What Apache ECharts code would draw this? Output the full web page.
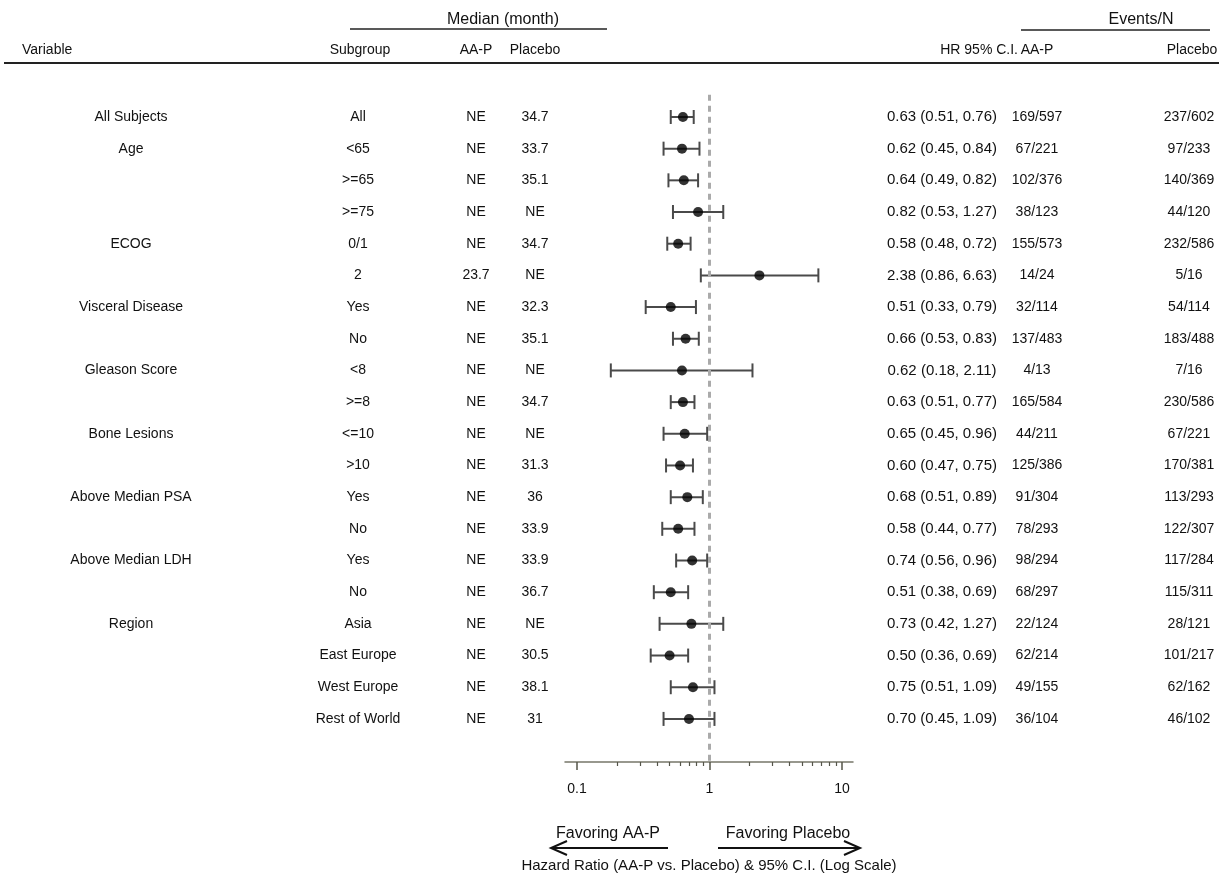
<!DOCTYPE html>
<html lang="en">
<head>
    <meta charset="UTF-8">
    <title>Forest plot</title>
    <script src="https://cdn.jsdelivr.net/npm/echarts@6/dist/echarts.min.js"></script>
    <style>
        html, body { margin: 0; padding: 0; background: #fff; }
        #main { width: 1219px; height: 881px; }
    </style>
</head>
<body>
<div id="main"></div>
<script>
    // ---- data
    var variables = ['All Subjects', 'Age', '', '', 'ECOG', '', 'Visceral Disease', '', 'Gleason Score', '',
        'Bone Lesions', '', 'Above Median PSA', '', 'Above Median LDH', '', 'Region', '', '', ''];
    var subgroups = ['All', '<65', '>=65', '>=75', '0/1', '2', 'Yes', 'No', '<8', '>=8',
        '<=10', '>10', 'Yes', 'No', 'Yes', 'No', 'Asia', 'East Europe', 'West Europe', 'Rest of World'];
    var medianAA = ['NE', 'NE', 'NE', 'NE', 'NE', '23.7', 'NE', 'NE', 'NE', 'NE',
        'NE', 'NE', 'NE', 'NE', 'NE', 'NE', 'NE', 'NE', 'NE', 'NE'];
    var medianPlacebo = ['34.7', '33.7', '35.1', 'NE', '34.7', 'NE', '32.3', '35.1', 'NE', '34.7',
        'NE', '31.3', '36', '33.9', '33.9', '36.7', 'NE', '30.5', '38.1', '31'];
    var hr = [0.63, 0.62, 0.64, 0.82, 0.58, 2.38, 0.51, 0.66, 0.62, 0.63,
        0.65, 0.60, 0.68, 0.58, 0.74, 0.51, 0.73, 0.50, 0.75, 0.70];
    var ciLow = [0.51, 0.45, 0.49, 0.53, 0.48, 0.86, 0.33, 0.53, 0.18, 0.51,
        0.45, 0.47, 0.51, 0.44, 0.56, 0.38, 0.42, 0.36, 0.51, 0.45];
    var ciHigh = [0.76, 0.84, 0.82, 1.27, 0.72, 6.63, 0.79, 0.83, 2.11, 0.77,
        0.96, 0.75, 0.89, 0.77, 0.96, 0.69, 1.27, 0.69, 1.09, 1.09];
    var eventsAA = ['169/597', '67/221', '102/376', '38/123', '155/573', '14/24', '32/114', '137/483', '4/13', '165/584',
        '44/211', '125/386', '91/304', '78/293', '98/294', '68/297', '22/124', '62/214', '49/155', '36/104'];
    var eventsPlacebo = ['237/602', '97/233', '140/369', '44/120', '232/586', '5/16', '54/114', '183/488', '7/16', '230/586',
        '67/221', '170/381', '113/293', '122/307', '117/284', '115/311', '28/121', '101/217', '62/162', '46/102'];
    var majorTicks = [0.1, 1, 10];
    var minorTicks = [0.2, 0.3, 0.4, 0.5, 0.6, 0.7, 0.8, 0.9, 2, 3, 4, 5, 6, 7, 8, 9];

    var FONT = '"Liberation Sans", Arial, Helvetica, sans-serif';
    // column centres (px)
    var colX = { variable: 131, subgroup: 358, medAA: 476, medPl: 535, hr: 942, evAA: 1037, evPl: 1189 };

    var rowIdx = hr.map(function (v, i) { return i; });
    var ciData = rowIdx.map(function (i) { return [ciLow[i], ciHigh[i], i]; });
    var pointData = rowIdx.map(function (i) { return [hr[i], i]; });
    var tableData = rowIdx.map(function (i) { return [1, i]; });

    function txt(x, y, s, size) {
        return {
            type: 'text', x: x, y: y,
            style: { text: s, fill: '#111', font: (size || 14) + 'px ' + FONT, align: 'center', verticalAlign: 'middle' }
        };
    }

    var myChart = echarts.init(document.getElementById('main'));
    var option = {
        animation: false,
        backgroundColor: '#fff',
        grid: { left: 565, right: 366, top: 94.8, bottom: 119 },
        xAxis: [
            {
                type: 'log', min: 0.0812, max: 12.1, position: 'bottom',
                axisLine: { show: true, onZero: false, lineStyle: { color: '#77776a', width: 1.5 } },
                axisTick: { show: true, customValues: majorTicks, length: 8, lineStyle: { color: '#55554a', width: 1.5 } },
                axisLabel: { show: true, customValues: majorTicks, margin: 20, color: '#111', fontSize: 14, fontFamily: FONT,
                    formatter: function (v) { return String(v); } },
                splitLine: { show: false }
            },
            {
                type: 'log', min: 0.0812, max: 12.1, position: 'bottom', gridIndex: 0,
                axisLine: { show: false, onZero: false },
                axisTick: { show: true, customValues: minorTicks, length: 4, lineStyle: { color: '#55554a', width: 1.2 } },
                axisLabel: { show: false },
                splitLine: { show: false }
            }
        ],
        yAxis: { type: 'value', inverse: true, min: -0.7, max: 20.36, show: false },
        series: [
            {
                type: 'custom', name: 'ci', clip: false,
                encode: { x: [0, 1], y: 2 },
                data: ciData,
                renderItem: function (params, api) {
                    var a = api.coord([api.value(0), api.value(2)]);
                    var b = api.coord([api.value(1), api.value(2)]);
                    var st = { stroke: '#4a4a4a', lineWidth: 2 };
                    return {
                        type: 'group', children: [
                            { type: 'line', shape: { x1: a[0], y1: a[1], x2: b[0], y2: b[1] }, style: st },
                            { type: 'line', shape: { x1: a[0], y1: a[1] - 7, x2: a[0], y2: a[1] + 7 }, style: st },
                            { type: 'line', shape: { x1: b[0], y1: b[1] - 7, x2: b[0], y2: b[1] + 7 }, style: st }
                        ]
                    };
                }
            },
            {
                type: 'scatter', name: 'HR', data: pointData, symbolSize: 10,
                itemStyle: { color: '#000' }, z: 5,
                markLine: {
                    silent: true, symbol: 'none', label: { show: false },
                    lineStyle: { color: '#aaaaaa', width: 3, type: [6, 5] },
                    data: [{ xAxis: 1 }]
                }
            },
            {
                type: 'custom', name: 'table', clip: false, silent: true,
                encode: { x: 0, y: 1 },
                data: tableData,
                renderItem: function (params, api) {
                    var i = api.value(1);
                    var y = api.coord([1, i])[1];
                    var hrText = hr[i].toFixed(2) + ' (' + ciLow[i].toFixed(2) + ', ' + ciHigh[i].toFixed(2) + ')';
                    return {
                        type: 'group', children: [
                            txt(colX.variable, y, variables[i]),
                            txt(colX.subgroup, y, subgroups[i]),
                            txt(colX.medAA, y, medianAA[i]),
                            txt(colX.medPl, y, medianPlacebo[i]),
                            txt(colX.hr, y, hrText, 15),
                            txt(colX.evAA, y, eventsAA[i]),
                            txt(colX.evPl, y, eventsPlacebo[i])
                        ]
                    };
                }
            }
        ],
        graphic: [
            txt(503, 20, 'Median (month)', 16),
            { type: 'line', shape: { x1: 350, y1: 29, x2: 607, y2: 29 }, style: { stroke: '#222', lineWidth: 1.5 } },
            txt(1141, 20, 'Events/N', 16),
            { type: 'line', shape: { x1: 1021, y1: 30, x2: 1210, y2: 30 }, style: { stroke: '#222', lineWidth: 1.5 } },
            { type: 'text', x: 22, y: 50, style: { text: 'Variable', fill: '#111', font: '14px ' + FONT, verticalAlign: 'middle' } },
            txt(360, 50, 'Subgroup'),
            txt(476, 50, 'AA-P'),
            txt(535, 50, 'Placebo'),
            { type: 'text', x: 1018, y: 50, style: { text: 'HR 95% C.I.', fill: '#111', font: '14px ' + FONT, align: 'right', verticalAlign: 'middle' } },
            txt(1037, 50, 'AA-P'),
            txt(1192, 50, 'Placebo'),
            { type: 'line', shape: { x1: 4, y1: 63, x2: 1219, y2: 63 }, style: { stroke: '#222', lineWidth: 2 } },
            // bottom arrows
            txt(608, 834, 'Favoring AA-P', 16),
            { type: 'polyline', shape: { points: [[668, 848], [551, 848]] }, style: { stroke: '#111', lineWidth: 2, fill: null } },
            { type: 'polyline', shape: { points: [[567, 841], [551, 848], [567, 855]] }, style: { stroke: '#111', lineWidth: 2, fill: null } },
            txt(788, 834, 'Favoring Placebo', 16),
            { type: 'polyline', shape: { points: [[718, 848], [860, 848]] }, style: { stroke: '#111', lineWidth: 2, fill: null } },
            { type: 'polyline', shape: { points: [[844, 841], [860, 848], [844, 855]] }, style: { stroke: '#111', lineWidth: 2, fill: null } },
            txt(709, 866, 'Hazard Ratio (AA-P vs. Placebo) & 95% C.I. (Log Scale)', 15)
        ]
    };
    myChart.setOption(option);
</script>
</body>
</html>
